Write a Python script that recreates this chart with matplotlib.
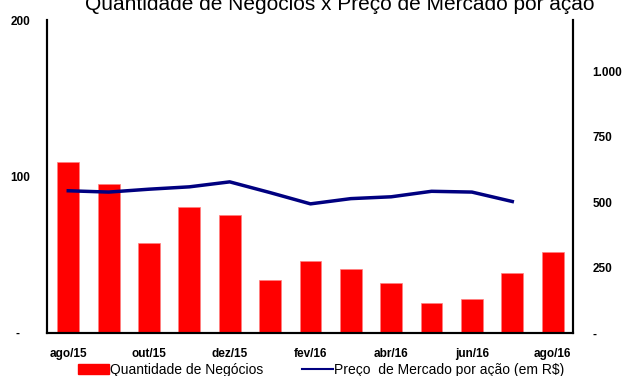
import matplotlib
matplotlib.use("Agg")
import matplotlib.pyplot as plt
import numpy as np
from matplotlib.patches import Patch
from matplotlib.lines import Line2D

plt.rcParams['font.family'] = ['Liberation Sans', 'DejaVu Sans']

months = ["ago/15", "set/15", "out/15", "nov/15", "dez/15", "jan/16", "fev/16",
          "mar/16", "abr/16", "mai/16", "jun/16", "jul/16", "ago/16"]
negocios = [109, 95, 57.5, 80.5, 75.5, 34, 46, 41, 32, 19, 22, 38.5, 51.5]
preco = [543, 538, 549, 558, 577, 536, 493, 513, 520, 541, 538, 502]
left_ticks = [0, 100, 200]
left_labels = ["-   ", "100", "200"]
right_ticks = [0, 250, 500, 750, 1000]
right_labels = ["-", "250", "500", "750", "1.000"]
title = "Quantidade de Negócios x Preço de Mercado por ação"

fig = plt.figure(figsize=(6.24, 3.76), dpi=100)
ax = fig.add_axes([0.0748, 0.1144, 0.8432, 0.8324])
x = np.arange(len(months))
ax.bar(x, negocios, width=0.54, color="#FF0000", edgecolor="#FF8080", linewidth=0.5, zorder=2)
ax.set_xlim(-0.535, len(months) - 0.5)
ax.set_ylim(0, 200)
ax.set_yticks(left_ticks)
ax.set_yticklabels(left_labels)
ax.set_xticks(x[::2])
ax.set_xticklabels(months[::2])
ax.tick_params(axis='y', length=0, pad=12, labelsize=8.5)
ax.tick_params(axis='x', length=0, pad=11, labelsize=8.5)
for lab in ax.get_xticklabels() + ax.get_yticklabels():
    lab.set_fontweight('bold')

ax2 = ax.twinx()
ax2.plot(x[:len(preco)], preco, color="#000080", linewidth=2.5, zorder=3)
ax2.set_ylim(0, 1195)
ax2.set_yticks(right_ticks)
ax2.set_yticklabels(right_labels)
ax2.tick_params(axis='y', length=0, pad=14, labelsize=8.5)
for lab in ax2.get_yticklabels():
    lab.set_fontweight('bold')

for a in (ax, ax2):
    a.spines['top'].set_visible(False)
    for s in ('left', 'right', 'bottom'):
        a.spines[s].set_linewidth(1.5)
        a.spines[s].set_color('black')

handles = [Patch(facecolor="#FF0000", edgecolor="#FF0000"),
           Line2D([0], [0], color="#000080", linewidth=1.5)]
labels = ["Quantidade de Negócios", "Preço  de Mercado por ação (em R$)"]
fig.legend(handles, labels, loc='center', bbox_to_anchor=(0.515, 1 - 370 / 376),
           ncol=2, frameon=False, fontsize=10, handlelength=2.2, handleheight=0.7,
           handletextpad=0.1, columnspacing=2.8, borderaxespad=0)

fig.text(0.545, 1 - 10 / 376, title, ha='center', va='baseline', fontsize=15)

fig.savefig("out.png", dpi=100)
